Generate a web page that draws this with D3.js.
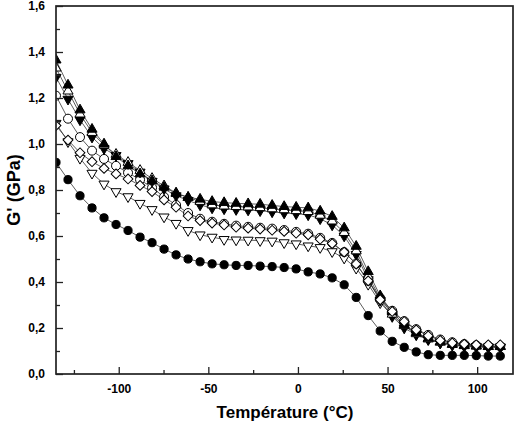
<!DOCTYPE html>
<html>
<head>
<meta charset="utf-8">
<script src="https://cdn.jsdelivr.net/npm/d3@7"></script>
<style>
  body { margin: 0; background: #fff; }
  text { font-family: "Liberation Sans", Arial, sans-serif; font-weight: bold; fill: #000; }
</style>
</head>
<body>
<script>
// temperatures (°C), one measurement about every 6.7 degrees
var temps = [-135, -128.3, -121.6, -114.9, -108.2, -101.5, -94.8, -88.1, -81.4, -74.7,
             -68, -61.3, -54.6, -47.9, -41.2, -34.5, -27.8, -21.1, -14.4, -7.7,
             -1, 5.7, 12.4, 19.1, 25.8, 32.5, 39.2, 45.9, 52.6, 59.3,
             66, 72.7, 79.4, 86.1, 92.8, 99.5, 106.2, 112.9];

// G' (GPa) for each sample
var triUpFilled = [1.365, 1.256, 1.148, 1.064, 1.0, 0.945, 0.905, 0.87, 0.84, 0.812,
                   0.785, 0.768, 0.76, 0.75, 0.745, 0.742, 0.74, 0.738, 0.733, 0.728,
                   0.725, 0.722, 0.708, 0.685, 0.635, 0.555, 0.445, 0.34, 0.27, 0.215,
                   0.18, 0.155, 0.14, 0.13, 0.125, 0.122, 0.12, 0.12];
var triDownFilled = [1.29, 1.195, 1.105, 1.03, 0.98, 0.95, 0.915, 0.878, 0.838, 0.805,
                     0.775, 0.755, 0.735, 0.722, 0.718, 0.715, 0.713, 0.71, 0.705, 0.7,
                     0.697, 0.692, 0.675, 0.648, 0.6, 0.52, 0.41, 0.32, 0.25, 0.2,
                     0.17, 0.15, 0.135, 0.127, 0.122, 0.12, 0.118, 0.118];
var triUpOpen = [1.33, 1.23, 1.13, 1.05, 0.995, 0.955, 0.92, 0.885, 0.85, 0.818,
                 0.787, 0.768, 0.75, 0.735, 0.73, 0.728, 0.726, 0.723, 0.718, 0.714,
                 0.71, 0.706, 0.69, 0.665, 0.615, 0.535, 0.425, 0.33, 0.26, 0.21,
                 0.175, 0.152, 0.138, 0.128, 0.123, 0.121, 0.119, 0.119];
var circleOpen = [1.21, 1.11, 1.03, 0.971, 0.935, 0.905, 0.875, 0.845, 0.81, 0.77,
                  0.735, 0.7, 0.675, 0.662, 0.653, 0.645, 0.64, 0.636, 0.632, 0.626,
                  0.618, 0.61, 0.592, 0.57, 0.53, 0.48, 0.405, 0.33, 0.275, 0.23,
                  0.195, 0.17, 0.15, 0.138, 0.13, 0.125, 0.122, 0.12];
var diamondOpen = [1.08, 1.017, 0.962, 0.923, 0.894, 0.87, 0.848, 0.82, 0.793, 0.757,
                   0.725, 0.687, 0.667, 0.656, 0.648, 0.638, 0.634, 0.63, 0.625, 0.62,
                   0.612, 0.605, 0.586, 0.567, 0.53, 0.478, 0.405, 0.323, 0.272, 0.228,
                   0.192, 0.166, 0.146, 0.135, 0.13, 0.127, 0.127, 0.127];
var triDownOpen = [1.09, 1.01, 0.938, 0.873, 0.826, 0.793, 0.771, 0.742, 0.715, 0.683,
                   0.655, 0.624, 0.605, 0.595, 0.585, 0.583, 0.582, 0.58, 0.578, 0.571,
                   0.566, 0.557, 0.55, 0.532, 0.504, 0.46, 0.39, 0.31, 0.255, 0.21,
                   0.175, 0.15, 0.135, 0.125, 0.12, 0.117, 0.115, 0.115];
var circleFilled = [0.92, 0.845, 0.775, 0.722, 0.679, 0.65, 0.624, 0.595, 0.571, 0.543,
                    0.518, 0.5, 0.488, 0.479, 0.475, 0.472, 0.472, 0.469, 0.467, 0.463,
                    0.457, 0.444, 0.435, 0.418, 0.388, 0.333, 0.254, 0.187, 0.142, 0.116,
                    0.096, 0.084, 0.081, 0.081, 0.081, 0.08, 0.078, 0.078];

var xTicks = [-100, -50, 0, 50, 100];
var xMinorTicks = [-125, -75, -25, 25, 75];
var yTicks = [0, 0.2, 0.4, 0.6, 0.8, 1.0, 1.2, 1.4, 1.6];
var yMinorTicks = [0.1, 0.3, 0.5, 0.7, 0.9, 1.1, 1.3, 1.5];

function drawChart() {
    var width = 519, height = 425;
    var plotLeft = 56, plotRight = 513, plotTop = 6, plotBottom = 374;

    var svg = d3.select('body').append('svg')
        .attr('width', width)
        .attr('height', height);

    var xScale = d3.scaleLinear().domain([-135, 120]).range([plotLeft, plotRight]);
    var yScale = d3.scaleLinear().domain([0, 1.6]).range([plotBottom, plotTop]);

    // clip so the first markers are cut by the axis
    svg.append('clipPath').attr('id', 'plotclip')
      .append('rect')
        .attr('x', plotLeft).attr('y', plotTop)
        .attr('width', plotRight - plotLeft).attr('height', plotBottom - plotTop);

    // series, in drawing order (last one on top)
    var series = [
        { values: circleFilled, shape: 'circle', fill: '#000', r: 4.1 },
        { values: triDownOpen, shape: 'tridown', fill: '#fff' },
        { values: circleOpen, shape: 'circle', fill: '#fff', r: 4.5 },
        { values: triDownFilled, shape: 'tridown', fill: '#000' },
        { values: triUpOpen, shape: 'triup', fill: '#fff' },
        { values: triUpFilled, shape: 'triup', fill: '#000' },
        { values: diamondOpen, shape: 'diamond', fill: '#fff' }
    ];

    var triPath = d3.symbol().type(d3.symbolTriangle).size(44)();
    var diaPath = d3.symbol().type(d3.symbolSquare).size(48)();

    var line = d3.line()
        .x(function(d) { return xScale(d[0]); })
        .y(function(d) { return yScale(d[1]); });

    var plot = svg.append('g').attr('clip-path', 'url(#plotclip)');

    // first all connecting lines
    series.forEach(function(s) {
        var pts = temps.map(function(t, i) { return [t, s.values[i]]; });
        plot.append('path')
            .datum(pts)
            .attr('d', line)
            .attr('fill', 'none')
            .attr('stroke', '#333')
            .attr('stroke-width', 0.8);
    });

    // then the markers
    series.forEach(function(s) {
        var pts = temps.map(function(t, i) { return [t, s.values[i]]; });
        var marks = plot.append('g').selectAll('.m').data(pts).enter();
        if (s.shape == 'circle') {
            marks.append('circle')
                .attr('cx', function(d) { return xScale(d[0]); })
                .attr('cy', function(d) { return yScale(d[1]); })
                .attr('r', s.r)
                .attr('fill', s.fill)
                .attr('stroke', '#000')
                .attr('stroke-width', 1);
        } else {
            marks.append('path')
                .attr('d', s.shape == 'diamond' ? diaPath : triPath)
                .attr('transform', function(d) {
                    var rot = s.shape == 'tridown' ? 180 : (s.shape == 'diamond' ? 45 : 0);
                    return 'translate(' + xScale(d[0]) + ',' + yScale(d[1]) + ') rotate(' + rot + ')';
                })
                .attr('fill', s.fill)
                .attr('stroke', '#000')
                .attr('stroke-width', 1);
        }
    });

    // frame
    svg.append('rect')
        .attr('x', plotLeft).attr('y', plotTop)
        .attr('width', plotRight - plotLeft).attr('height', plotBottom - plotTop)
        .attr('fill', 'none')
        .attr('stroke', '#222')
        .attr('stroke-width', 1.7);

    // axes with inward ticks, plain hyphen for minus
    svg.append('g').attr('transform', 'translate(0,' + plotBottom + ')')
      .call(d3.axisBottom(xScale).tickValues(xTicks).tickSizeInner(-7).tickSizeOuter(0).tickPadding(10)
        .tickFormat(function(d) { return String(d); }));
    svg.append('g').attr('transform', 'translate(0,' + plotBottom + ')')
      .call(d3.axisBottom(xScale).tickValues(xMinorTicks).tickSizeInner(-4).tickSizeOuter(0).tickFormat(''));

    svg.append('g').attr('transform', 'translate(' + plotLeft + ',0)')
      .call(d3.axisLeft(yScale).tickValues(yTicks).tickSizeInner(-7).tickSizeOuter(0).tickPadding(11)
        .tickFormat(function(d) { return d.toFixed(1).replace('.', ','); }));
    svg.append('g').attr('transform', 'translate(' + plotLeft + ',0)')
      .call(d3.axisLeft(yScale).tickValues(yMinorTicks).tickSizeInner(-4).tickSizeOuter(0).tickFormat(''));

    svg.selectAll('.domain').remove();
    svg.selectAll('.tick line').attr('stroke', '#222').attr('stroke-width', 1.3);
    svg.selectAll('.tick text')
        .style('font-size', '12px')
        .style('font-family', 'Liberation Sans, Arial, sans-serif')
        .style('font-weight', 'bold');

    // axis titles
    svg.append('text')
        .attr('x', 285).attr('y', 418)
        .attr('text-anchor', 'middle')
        .style('font-size', '17px')
        .text('Température (°C)');

    svg.append('text')
        .attr('transform', 'translate(20,190) rotate(-90)')
        .attr('text-anchor', 'middle')
        .style('font-size', '18px')
        .text("G' (GPa)");
}

drawChart();
</script>
</body>
</html>
